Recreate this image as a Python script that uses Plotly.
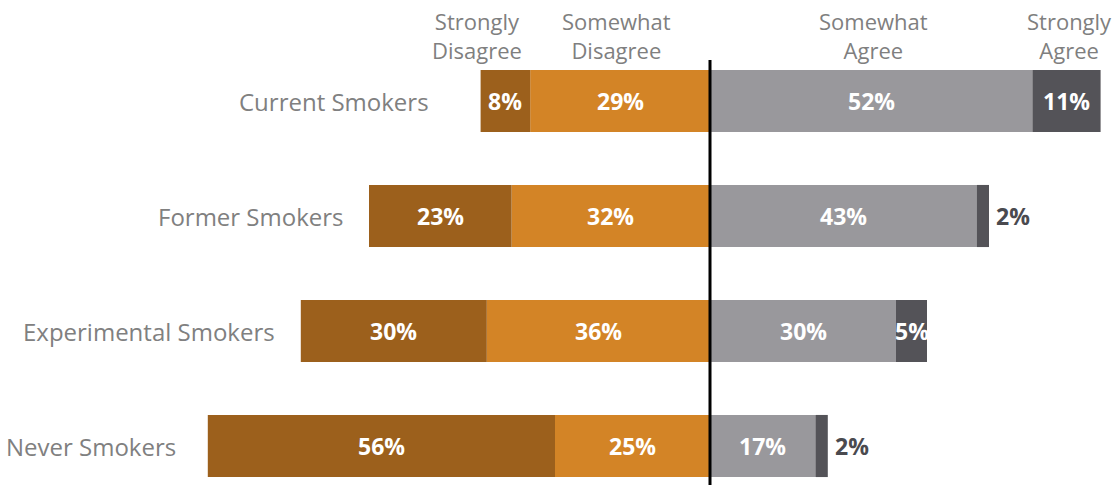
import plotly.graph_objects as go

groups = ["Never Smokers", "Experimental Smokers", "Former Smokers", "Current Smokers"]
strongly_disagree = [56, 30, 23, 8]
somewhat_disagree = [25, 36, 32, 29]
somewhat_agree = [17, 30, 43, 52]
strongly_agree = [2, 5, 2, 11]

header_labels = ["Strongly<br>Disagree", "Somewhat<br>Disagree", "Somewhat<br>Agree", "Strongly<br>Agree"]

C_SD = "#9c601c"
C_SWD = "#d38426"
C_SWA = "#99989c"
C_SA = "#545358"
FONT = "Open Sans"

ypos = list(range(len(groups)))
bar_w = 0.54

fig = go.Figure()
# negative side: somewhat disagree sits next to the centre, strongly disagree beyond it
fig.add_bar(y=ypos, x=[-v for v in somewhat_disagree], orientation="h",
            marker=dict(color=C_SWD, line=dict(width=0)), width=bar_w, hoverinfo="skip")
fig.add_bar(y=ypos, x=[-v for v in strongly_disagree], orientation="h",
            marker=dict(color=C_SD, line=dict(width=0)), width=bar_w, hoverinfo="skip")
fig.add_bar(y=ypos, x=somewhat_agree, orientation="h",
            marker=dict(color=C_SWA, line=dict(width=0)), width=bar_w, hoverinfo="skip")
fig.add_bar(y=ypos, x=strongly_agree, orientation="h",
            marker=dict(color=C_SA, line=dict(width=0)), width=bar_w, hoverinfo="skip")

ann = []
val_font = dict(family=FONT, size=23, color="white")
label_gap = [30, 24, 23, 50]
for i, g in enumerate(groups):
    sd, swd, swa, sa = strongly_disagree[i], somewhat_disagree[i], somewhat_agree[i], strongly_agree[i]
    ann.append(dict(x=-(swd + sd / 2), y=i, text=f"<b>{sd}%</b>", showarrow=False, font=val_font))
    ann.append(dict(x=-swd / 2, y=i, text=f"<b>{swd}%</b>", showarrow=False, font=val_font))
    ann.append(dict(x=swa / 2, y=i, text=f"<b>{swa}%</b>", showarrow=False, font=val_font))
    if sa >= 5:
        ann.append(dict(x=swa + sa / 2, y=i, text=f"<b>{sa}%</b>", showarrow=False, font=val_font))
    else:
        ann.append(dict(x=swa + sa, y=i, text=f"<b>{sa}%</b>", showarrow=False, xanchor="left",
                        xshift=5, font=dict(family=FONT, size=23, color="#4a4a4f")))
    ann.append(dict(x=-(sd + swd), y=i, text=g, showarrow=False, xanchor="right",
                    xshift=-label_gap[i], font=dict(family=FONT, size=24, color="#808080")))

# column headers above the top row
top = len(groups) - 1
hdr_x = [-(somewhat_disagree[top] + strongly_disagree[top] / 2), -somewhat_disagree[top] / 2,
         somewhat_agree[top] / 2, somewhat_agree[top] + strongly_agree[top] / 2]
hdr_shift = [-28, -4, 2, 3]
for hx, ht, hs in zip(hdr_x, header_labels, hdr_shift):
    ann.append(dict(x=hx, y=top + 0.3, yanchor="bottom", text=ht, showarrow=False, xshift=hs,
                    font=dict(family=FONT, size=22, color="#7f7f7f")))

px_per_unit = 6.2
x_lo = -710 / px_per_unit
x_hi = (1116 - 710) / px_per_unit
y_hi = top + 101 / 115
y_lo = top - 384 / 115

fig.update_layout(
    barmode="relative",
    width=1116, height=485,
    margin=dict(l=0, r=0, t=0, b=0),
    paper_bgcolor="white", plot_bgcolor="white",
    showlegend=False,
    xaxis=dict(range=[x_lo, x_hi], visible=False, fixedrange=True),
    yaxis=dict(range=[y_lo, y_hi], visible=False, fixedrange=True),
    annotations=ann,
    shapes=[dict(type="line", x0=0, x1=0, y0=y_lo, y1=top + 41 / 115,
                 line=dict(color="black", width=3), layer="above")],
)

fig.write_html("out.html")
